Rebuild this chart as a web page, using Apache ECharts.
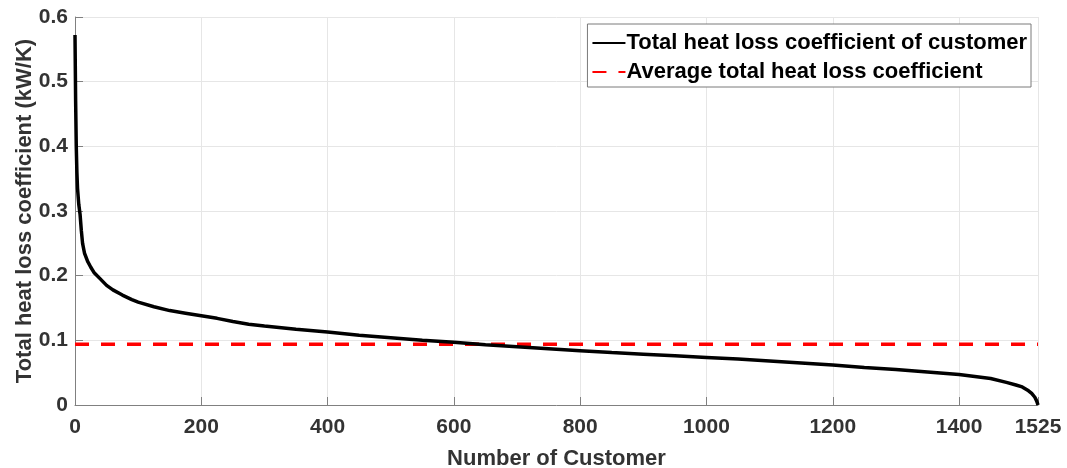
<!DOCTYPE html>
<html><head><meta charset="utf-8">
<script src="https://cdn.jsdelivr.net/npm/echarts@6/dist/echarts.min.js"></script>
<style>html,body{margin:0;padding:0;background:#fff}#c{width:1067px;height:468px}</style>
</head><body><div id="c"></div>
<script>
const customerIdx = [0,1,2,3,4,6,8,10,12,15,20,25,30,40,50,60,75,90,100,125,150,175,200,225,250,275,300,350,400,450,500,550,600,650,700,750,800,850,900,950,1000,1050,1100,1150,1200,1250,1300,1350,1400,1425,1450,1475,1490,1500,1510,1515,1520,1523,1525];
const heatLoss = [0.572,0.47,0.40,0.36,0.335,0.31,0.295,0.27,0.25,0.235,0.222,0.213,0.205,0.195,0.185,0.178,0.170,0.163,0.159,0.152,0.146,0.142,0.138,0.134,0.129,0.125,0.122,0.117,0.113,0.108,0.104,0.100,0.097,0.093,0.090,0.087,0.084,0.081,0.0785,0.076,0.0735,0.071,0.068,0.065,0.062,0.058,0.055,0.051,0.047,0.044,0.041,0.035,0.031,0.028,0.022,0.018,0.012,0.006,0.0];
const avgHeatLoss = 0.094;
const xRange = [0, 1525];
const seriesNames = ['Total heat loss coefficient of customer', 'Average total heat loss coefficient'];

const chart = echarts.init(document.getElementById('c'), null, {renderer:'canvas'});
const font = 'Liberation Sans, Arial, sans-serif';
chart.setOption({
  animation:false,
  backgroundColor:'#fff',
  grid:{left:75, right:29, top:17, bottom:63, containLabel:false, outerBoundsMode:'none'},
  legend:{
    right:36, top:24, orient:'vertical',
    backgroundColor:'#fff', borderColor:'#7a7a7a', borderWidth:1,
    padding:[8,4,4,4], itemGap:7, itemWidth:33, itemHeight:24,
    itemStyle:{opacity:0},
    textStyle:{fontFamily:font, fontWeight:'bold', fontSize:22, color:'#000', padding:[0,0,0,-4]},
    data:seriesNames
  },
  xAxis:{
    type:'value', min:xRange[0], max:xRange[1], interval:200,
    name:'Number of Customer', nameLocation:'middle', nameGap:43,
    nameTextStyle:{fontFamily:font, fontWeight:'bold', fontSize:22, color:'#333'},
    axisLine:{show:true, lineStyle:{color:'#808080', width:1}},
    axisTick:{show:true, inside:true, length:8, lineStyle:{color:'#808080'}},
    axisLabel:{fontFamily:font, fontWeight:'bold', fontSize:21, color:'#333', margin:12, showMaxLabel:true, showMinLabel:true,
      formatter:v=>String(v)},
    splitLine:{show:true, lineStyle:{color:'#e6e6e6', width:1}}
  },
  yAxis:{
    type:'value', min:0, max:0.6, interval:0.1,
    name:'Total heat loss coefficient (kW/K)', nameLocation:'middle', nameGap:39,
    nameMoveOverlap:false,
    nameTextStyle:{fontFamily:font, fontWeight:'bold', fontSize:22, color:'#333'},
    axisLine:{show:true, lineStyle:{color:'#808080', width:1}},
    axisTick:{show:true, inside:true, length:8, lineStyle:{color:'#808080'}},
    axisLabel:{fontFamily:font, fontWeight:'bold', fontSize:21, color:'#333', margin:7,
      formatter:v=>v===0?'0':v.toFixed(1)},
    splitLine:{show:true, lineStyle:{color:'#e6e6e6', width:1}}
  },
  series:[
    {name:seriesNames[0], type:'line', symbol:'none', smooth:false,
     data:customerIdx.map((x,i)=>[x,heatLoss[i]]),
     lineStyle:{color:'#000', width:3.5}, itemStyle:{color:'#000'}, z:3},
    {name:seriesNames[1], type:'line', symbol:'none',
     data:[[xRange[0],avgHeatLoss],[xRange[1],avgHeatLoss]],
     lineStyle:{color:'#ff0000', width:3.5, type:[14,12]}, itemStyle:{color:'#ff0000'}, z:2}
  ]
});
</script></body></html>
